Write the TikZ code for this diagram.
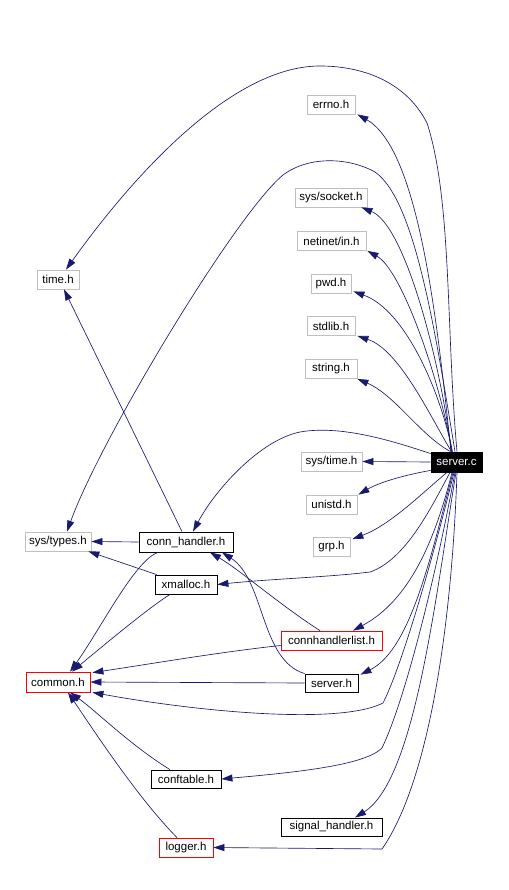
\documentclass[tikz,border=0pt]{standalone}
\usepackage{fontspec}
\setmainfont{Liberation Sans}
\usetikzlibrary{arrows.meta,calc}
\definecolor{edgeblue}{HTML}{191970}
\definecolor{sysgray}{HTML}{BFBFBF}
\begin{document}
\begin{tikzpicture}[x=1pt,y=-1pt,
  hdr/.style={rectangle, inner sep=0pt, minimum height=19pt, font=\fontsize{11.5}{13}\selectfont, line width=0.8pt},
  sysh/.style={hdr, draw=sysgray},
  projh/.style={hdr, draw=black},
  warnh/.style={hdr, draw=red},
  rooth/.style={hdr, draw=black, fill=black, text=white, minimum height=20pt},
  dep/.style={draw=edgeblue, line width=0.65pt, -{Triangle[length=11pt,width=7pt]}}]
\useasboundingbox (0,0) rectangle (508,890);
\fill[white] (0,0) rectangle (508,890);

% nodes
\node[sysh, minimum width=48pt] (errnoh)   at (331,104.5) {errno.h};
\node[sysh, minimum width=72pt] (socketh)  at (331,197.5) {sys/socket.h};
\node[sysh, minimum width=69pt] (netineth) at (331.5,241) {netinet/in.h};
\node[sysh, minimum width=40pt] (pwdh)     at (331,283.5) {pwd.h};
\node[sysh, minimum width=48pt] (stdlibh)  at (331,326) {stdlib.h};
\node[sysh, minimum width=52pt] (stringh)  at (331,369) {string.h};
\node[sysh, minimum width=42pt] (timeh)    at (58,279.5) {time.h};
\node[rooth, minimum width=51pt] (serverc) at (456.5,462) {server.c};
\node[sysh, minimum width=61pt] (systimeh) at (331.5,461.5) {sys/time.h};
\node[sysh, minimum width=51pt] (unistdh)  at (331.5,504.5) {unistd.h};
\node[sysh, minimum width=37pt] (grph)     at (331.5,547) {grp.h};
\node[sysh, minimum width=66pt] (systypesh) at (58,541.5) {sys/types.h};
\node[projh, minimum width=94pt, minimum height=20pt] (connh) at (186,542) {conn\_handler.h};
\node[projh, minimum width=62pt] (xmallh)  at (186,584.5) {xmalloc.h};
\node[warnh, minimum width=101pt] (connhl) at (331.5,640.5) {connhandlerlist.h};
\node[warnh, minimum width=64pt, minimum height=20pt] (commonh) at (58,682) {common.h};
\node[projh, minimum width=53pt, minimum height=18pt] (serverh) at (331.5,683) {server.h};
\node[projh, minimum width=70pt, minimum height=18pt] (conftab) at (186,779) {conftable.h};
\node[projh, minimum width=101pt, minimum height=18pt] (sigh) at (331.5,827) {signal\_handler.h};
\node[warnh, minimum width=54pt] (loggerh) at (186,847.5) {logger.h};

% edges from server.c
\draw[dep] ($(serverc.north)+(-5.5,0)$) .. controls (438,330) and (420,150) .. ($(errnoh.south east)+(2,0)$);
\draw[dep] ($(serverc.north)+(-5,0)$) .. controls (440,360) and (405,225) .. ($(socketh.south east)+(-6,0)$);
\draw[dep] ($(serverc.north)+(-4.5,0)$) .. controls (440,380) and (402,270) .. ($(netineth.south east)+(1,0)$);
\draw[dep] ($(serverc.north)+(-4,0)$) .. controls (440,390) and (405,310) .. ($(pwdh.south east)+(2,-2)$);
\draw[dep] ($(serverc.north)+(-5,0)$) .. controls (432,420) and (400,350) .. ($(stdlibh.south east)+(2,0)$);
\draw[dep] ($(serverc.north)+(-6,0)$) .. controls (420,435) and (395,395) .. (stringh.south east);
\draw[dep] (serverc.west) -- (systimeh.east);
\draw[dep] ($(serverc.north west)+(0,2)$) .. controls (390,440) and (340,425) .. (300,432)
   .. controls (260,440) and (215,490) .. ($(connh.north)+(7,0)$);
\draw[dep] ($(serverc.south west)+(0,-2)$) .. controls (405,475) and (380,482) .. ($(unistdh.north east)+(1,0)$);
\draw[dep] ($(serverc.south)+(-9.5,0)$) .. controls (420,495) and (390,525) .. ($(grph.north east)+(2,2)$);
\draw[dep] ($(serverc.south)+(-6.5,0)$) .. controls (430,510) and (405,560) .. (370,572)
   .. controls (330,577) and (270,579) .. (xmallh.east);
\draw[dep] ($(serverc.south)+(-4.5,0)$) .. controls (435,540) and (410,600) .. ($(connhl.north)+(21.5,0)$);
\draw[dep] ($(serverc.south)+(-3.5,0)$) .. controls (430,560) and (410,650) .. ($(serverh.north east)+(2,1)$);
\draw[dep] ($(serverc.south)+(-2.5,0)$) .. controls (430,570) and (400,670) .. (383,703)
   .. controls (340,725) and (200,712) .. ($(commonh.south east)+(2,0)$);
\draw[dep] ($(serverc.south)+(-1.5,0)$) .. controls (435,580) and (405,700) .. (382,748)
   .. controls (365,765) and (300,772) .. (conftab.east);
\draw[dep] ($(serverc.south)+(-0.5,0)$) .. controls (435,600) and (415,780) .. ($(sigh.north)+(23.5,0)$);
\draw[dep] ($(serverc.south)+(0.5,0)$) .. controls (452,620) and (430,780) .. (382,849)
   -- (loggerh.east);
\draw[dep] ($(serverc.north)+(0.5,0)$) .. controls (446,330) and (452,200) .. (427,123)
   .. controls (405,80) and (360,66) .. (320,66)
   .. controls (230,66) and (130,180) .. ($(timeh.north)+(8,0)$);
\draw[dep] ($(serverc.north)+(-1.5,0)$) .. controls (435,330) and (415,200) .. (375,172)
   .. controls (350,158) and (310,155) .. (283,175)
   .. controls (235,215) and (100,440) .. ($(systypesh.north)+(9,0)$);

% other edges
\draw[dep] ($(connh.north)+(-4,0)$) -- ($(timeh.south)+(6,0)$);
\draw[dep] (connh.west) -- (systypesh.east);
\draw[dep] ($(connh.south)+(-28,0)$) .. controls (135,560) and (100,630) .. ($(commonh.north)+(12,0)$);
\draw[dep] ($(xmallh.north west)+(2,0)$) -- ($(systypesh.south east)+(-3,0)$);
\draw[dep] ($(xmallh.south)+(-16,0)$) .. controls (150,607) and (110,640) .. ($(commonh.north)+(14,0)$);
\draw[dep] ($(connhl.north)+(-11.5,0)$) .. controls (280,605) and (240,570) .. ($(connh.south)+(24,0)$);
\draw[dep] (serverh.north west) .. controls (260,660) and (265,580) .. ($(connh.south)+(36,0)$);
\draw[dep] ($(connhl.west)+(0,5)$) .. controls (220,652) and (150,664) .. ($(commonh.north east)+(2,1)$);
\draw[dep] (serverh.west) -- (commonh.east);
\draw[dep] ($(conftab.north)+(-16,0)$) .. controls (130,745) and (95,710) .. ($(commonh.south)+(12,0)$);
\draw[dep] ($(loggerh.north)+(-9,0)$) .. controls (140,800) and (100,740) .. ($(commonh.south)+(10,0)$);
\end{tikzpicture}
\end{document}
